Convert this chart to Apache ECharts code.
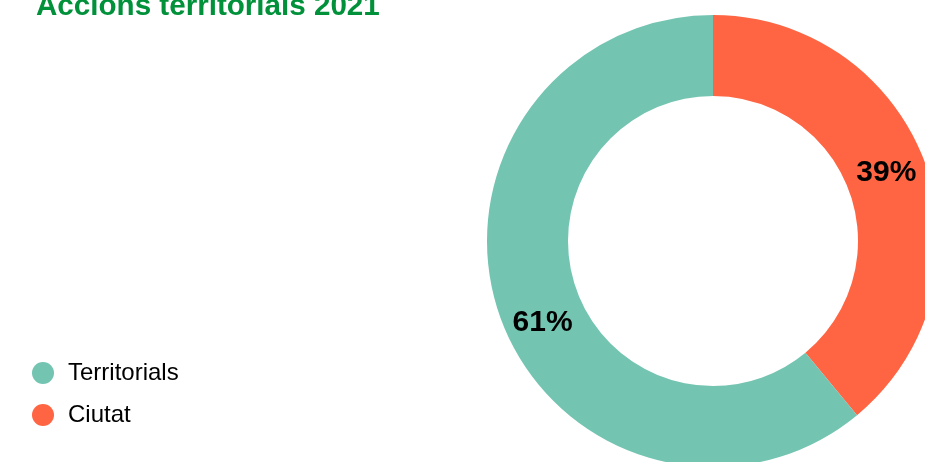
<!DOCTYPE html>
<html><head><meta charset="utf-8">
<script src="https://cdn.jsdelivr.net/npm/echarts@6/dist/echarts.min.js"></script>
<style>html,body{margin:0;padding:0;background:#fff}#c{width:925px;height:462px}</style>
</head><body><div id="c"></div>
<script>
const titleText = 'Accions territorials 2021';
const categories = ['Ciutat', 'Territorials'];
const values = [39, 61];
const legendOrder = ['Territorials', 'Ciutat'];
const colors = ['#FF6542', '#74C4B2'];
const labelFormats = ['{d}%{q|}\n{s|}', '{t|}\n{p|}{d}%'];

const chart = echarts.init(document.getElementById('c'));
chart.setOption({
  animation: false,
  title: {
    text: titleText, left: 31, top: -13,
    textStyle: {fontFamily: 'Liberation Sans, Arial, sans-serif', fontWeight: 'bold', fontSize: 29.6, color: '#00913A'}
  },
  legend: {
    orient: 'vertical', left: 27, top: 356, data: legendOrder,
    icon: 'circle', itemWidth: 22, itemHeight: 22, itemGap: 18,
    textStyle: {fontFamily: 'Liberation Sans, Arial, sans-serif', fontSize: 24, color: '#000', padding: [0,0,0,9]}
  },
  series: [{
    type: 'pie', center: [713, 241], radius: [145, 226], startAngle: 90, clockwise: true,
    avoidLabelOverlap: false,
    label: {
      show: true, position: 'inside',
      fontFamily: 'Liberation Sans, Arial, sans-serif', fontWeight: 'bold', fontSize: 30, color: '#000', lineHeight: 32,
      rich: {
        s: {lineHeight: 8, fontSize: 1},
        t: {lineHeight: 36, fontSize: 1},
        p: {width: 14},
        q: {width: 8}
      }
    },
    labelLine: {show: false},
    emphasis: {disabled: true},
    data: categories.map((n, i) => ({name: n, value: values[i], itemStyle: {color: colors[i]}, label: {formatter: labelFormats[i]}}))
  }]
});
</script></body></html>
